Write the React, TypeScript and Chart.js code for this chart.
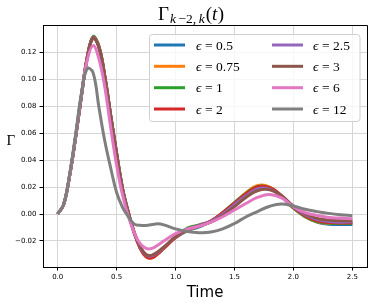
import { useEffect, useRef } from "react";
import { Chart, registerables } from "chart.js";

Chart.register(...registerables);

const times = [0, 0.05, 0.1, 0.15, 0.2, 0.25, 0.3, 0.35, 0.4, 0.45, 0.5, 0.55, 0.6, 0.65, 0.7, 0.75, 0.8, 0.85, 0.9, 1.0, 1.1, 1.2, 1.3, 1.4, 1.5, 1.6, 1.7, 1.8, 1.9, 2.0, 2.1, 2.2, 2.3, 2.4, 2.5];

const epsLabels = ["0.5", "0.75", "1", "2", "2.5", "3", "6", "12"];

const eps05 = [0, 0.007, 0.028, 0.056, 0.087, 0.116, 0.131, 0.124, 0.102, 0.073, 0.045, 0.019, 0.001, -0.014, -0.025, -0.031, -0.032, -0.029, -0.025, -0.0175, -0.0125, -0.0095, -0.0055, 0.0005, 0.0075, 0.0145, 0.02, 0.0195, 0.0135, 0.0045, -0.002, -0.006, -0.0075, -0.0078, -0.0077];
const eps075 = [0, 0.007, 0.028, 0.056, 0.087, 0.116, 0.131, 0.124, 0.102, 0.073, 0.045, 0.019, 0.001, -0.014, -0.0255, -0.0315, -0.0325, -0.0295, -0.0255, -0.0175, -0.012, -0.009, -0.0055, 0.001, 0.008, 0.016, 0.0212, 0.02, 0.0135, 0.0045, -0.002, -0.0058, -0.007, -0.007, -0.0068];
const eps1 = [0, 0.007, 0.028, 0.056, 0.087, 0.116, 0.1318, 0.1245, 0.102, 0.073, 0.045, 0.019, 0.001, -0.014, -0.025, -0.031, -0.032, -0.029, -0.025, -0.017, -0.0105, -0.008, -0.0055, 0.001, 0.0085, 0.0155, 0.0205, 0.0195, 0.0132, 0.0045, -0.0018, -0.0055, -0.0068, -0.007, -0.007];
const eps2 = [0, 0.007, 0.028, 0.056, 0.087, 0.116, 0.1312, 0.124, 0.102, 0.073, 0.045, 0.019, 0.001, -0.0142, -0.0255, -0.0318, -0.0325, -0.0295, -0.0255, -0.0175, -0.0115, -0.0085, -0.005, 0.001, 0.008, 0.015, 0.0203, 0.0195, 0.0135, 0.005, -0.0012, -0.005, -0.0063, -0.0066, -0.0065];
const eps25 = [0, 0.007, 0.028, 0.056, 0.087, 0.116, 0.1308, 0.1238, 0.1015, 0.0725, 0.0445, 0.0185, 0.0008, -0.014, -0.0245, -0.0305, -0.031, -0.0285, -0.0248, -0.017, -0.0115, -0.0085, -0.0055, 0.0, 0.007, 0.0138, 0.0188, 0.0185, 0.0133, 0.0055, -0.0005, -0.004, -0.0055, -0.006, -0.0058];
const eps3 = [0, 0.007, 0.028, 0.056, 0.087, 0.116, 0.1305, 0.1235, 0.101, 0.072, 0.044, 0.018, 0.0005, -0.014, -0.024, -0.03, -0.0305, -0.028, -0.0245, -0.0168, -0.0115, -0.0088, -0.006, -0.001, 0.0055, 0.0125, 0.0175, 0.018, 0.0135, 0.006, 0.0002, -0.0032, -0.0045, -0.005, -0.005];
const eps6 = [0, 0.007, 0.028, 0.057, 0.088, 0.114, 0.125, 0.115, 0.094, 0.064, 0.036, 0.014, -0.002, -0.014, -0.022, -0.0255, -0.0255, -0.023, -0.02, -0.0145, -0.011, -0.009, -0.006, -0.002, 0.003, 0.008, 0.0125, 0.0145, 0.012, 0.0055, 0.001, -0.001, -0.0025, -0.003, -0.0035];
const eps12 = [0, 0.007, 0.029, 0.058, 0.089, 0.108, 0.105, 0.079, 0.054, 0.034, 0.016, 0.005, -0.002, -0.0075, -0.0084, -0.0085, -0.0078, -0.0072, -0.008, -0.011, -0.013, -0.0138, -0.0134, -0.011, -0.007, -0.002, 0.002, 0.0058, 0.0075, 0.006, 0.0035, 0.0018, 0.0005, -0.0005, -0.0012];

const seriesValues = [eps05, eps075, eps1, eps2, eps25, eps3, eps6, eps12];
const seriesColors = ["#1f77b4", "#ff7f0e", "#2ca02c", "#d62728", "#9467bd", "#8c564b", "#e377c2", "#7f7f7f"];

const xTicks = [0, 0.5, 1.0, 1.5, 2.0, 2.5];
const yTicks = [-0.02, 0, 0.02, 0.04, 0.06, 0.08, 0.1, 0.12];

const SERIF = '"Liberation Serif", "DejaVu Serif", serif';

const align = (p: number) => Math.round(p - 0.5) + 0.5;

const decoPlugin = {
  id: "deco",
  afterDraw(chart: any) {
    const ctx = chart.ctx as CanvasRenderingContext2D;
    const ca = chart.chartArea;
    ctx.save();
    ctx.strokeStyle = "#000";
    ctx.lineWidth = 1;
    ctx.beginPath();
    ctx.moveTo(align(ca.left), align(ca.top));
    ctx.lineTo(align(ca.right), align(ca.top));
    ctx.lineTo(align(ca.right), align(ca.bottom));
    ctx.stroke();

    ctx.beginPath();
    (ctx as any).roundRect(149.5, 34.5, 210.5, 87, 3);
    ctx.fillStyle = "rgba(255,255,255,0.8)";
    ctx.fill();
    ctx.strokeStyle = "#d0d0d0";
    ctx.lineWidth = 1;
    ctx.stroke();

    const rowsY = [45, 66.3, 87.7, 109];
    const cols = [
      { lx: 154, tx: 196 },
      { lx: 272, tx: 313 },
    ];
    for (let i = 0; i < epsLabels.length; i++) {
      const col = cols[Math.floor(i / 4)];
      const y = rowsY[i % 4];
      ctx.strokeStyle = seriesColors[i];
      ctx.lineWidth = 3;
      ctx.beginPath();
      ctx.moveTo(col.lx, y);
      ctx.lineTo(col.lx + 31, y);
      ctx.stroke();
      ctx.fillStyle = "#000";
      ctx.textBaseline = "alphabetic";
      ctx.textAlign = "left";
      let x = col.tx;
      ctx.font = `italic 13.5px ${SERIF}`;
      ctx.fillText("ϵ", x, y + 4.5);
      x += ctx.measureText("ϵ").width + 3.5;
      ctx.font = `13.5px ${SERIF}`;
      ctx.fillText("=", x, y + 4.5);
      x += ctx.measureText("=").width + 3.5;
      ctx.fillText(epsLabels[i], x, y + 4.5);
    }

    ctx.fillStyle = "#000";
    let tx = 158;
    ctx.font = `19px ${SERIF}`;
    ctx.fillText("Γ", tx, 19.5);
    tx += ctx.measureText("Γ").width + 1;
    ctx.font = `italic 13.5px ${SERIF}`;
    ctx.fillText("k", tx, 23);
    tx += ctx.measureText("k").width + 2.5;
    ctx.font = `13.5px ${SERIF}`;
    ctx.fillText("−2,", tx, 23);
    tx += ctx.measureText("−2,").width + 2.5;
    ctx.font = `italic 13.5px ${SERIF}`;
    ctx.fillText("k", tx, 23);
    tx += ctx.measureText("k").width + 1;
    ctx.font = `19px ${SERIF}`;
    ctx.fillText("(", tx, 19.5);
    tx += ctx.measureText("(").width;
    ctx.font = `italic 19px ${SERIF}`;
    ctx.fillText("t", tx, 19.5);
    tx += ctx.measureText("t").width + 0.5;
    ctx.font = `19px ${SERIF}`;
    ctx.fillText(")", tx, 19.5);

    ctx.font = `15px ${SERIF}`;
    ctx.fillText("Γ", 6.5, 144.5);

    ctx.font = `15px "DejaVu Sans", sans-serif`;
    ctx.textAlign = "center";
    ctx.fillText("Time", (ca.left + ca.right) / 2, 297);
    ctx.restore();
  },
};

export default function App() {
  const ref = useRef<HTMLCanvasElement | null>(null);
  useEffect(() => {
    document.body.style.margin = "0";
    const canvas = ref.current;
    if (!canvas) return;
    const n = seriesValues.length;
    const chart = new Chart(canvas, {
      type: "line",
      data: {
        datasets: seriesValues.map((vals, i) => ({
          label: "ϵ = " + epsLabels[i],
          data: times.map((t, j) => ({ x: t, y: vals[j] })),
          borderColor: seriesColors[i],
          backgroundColor: seriesColors[i],
          borderWidth: 3,
          pointRadius: 0,
          fill: false,
          tension: 0.4,
          order: n - 1 - i,
        })),
      },
      options: {
        animation: false,
        responsive: false,
        events: [],
        layout: { padding: { left: 0, top: 25, right: 7, bottom: 0 } },
        plugins: {
          legend: { display: false },
          title: { display: false },
          tooltip: { enabled: false },
        },
        scales: {
          x: {
            type: "linear",
            min: -0.125,
            max: 2.625,
            afterBuildTicks: (axis: any) => {
              axis.ticks = xTicks.map((v) => ({ value: v }));
            },
            afterFit: (axis: any) => {
              axis.height = 39;
            },
            ticks: {
              color: "#000",
              font: { family: '"DejaVu Sans", sans-serif', size: 7 },
              padding: 2,
              maxRotation: 0,
              callback: (v: any) => Number(v).toFixed(1),
            },
            grid: { color: "#d6d6d6", lineWidth: 1, tickColor: "#000", tickLength: 3.5 },
            border: { color: "#000", width: 1 },
          },
          y: {
            type: "linear",
            min: -0.0393,
            max: 0.1403,
            afterBuildTicks: (axis: any) => {
              axis.ticks = yTicks.map((v) => ({ value: v }));
            },
            afterFit: (axis: any) => {
              axis.width = 43;
            },
            ticks: {
              color: "#000",
              font: { family: '"DejaVu Sans", sans-serif', size: 7 },
              padding: 3,
              callback: (v: any) => {
                const num = Number(v);
                const s = Math.abs(num).toFixed(2);
                return num < -1e-9 ? "−" + s : s;
              },
            },
            grid: { color: "#d6d6d6", lineWidth: 1, tickColor: "#000", tickLength: 3.5 },
            border: { color: "#000", width: 1 },
          },
        },
      },
      plugins: [decoPlugin],
    });
    return () => chart.destroy();
  }, []);
  return (
    <div style={{ width: 374, height: 306 }}>
      <canvas ref={ref} width={374} height={306} style={{ display: "block" }} />
    </div>
  );
}
